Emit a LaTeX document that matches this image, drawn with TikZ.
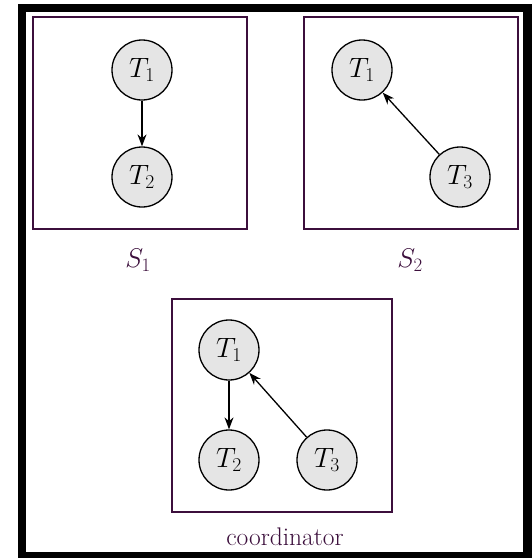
\RequirePackage{fix-cm}
\documentclass[tikz,border=0pt]{standalone}
\usetikzlibrary{arrows.meta}
\definecolor{dpurple}{RGB}{60,15,60}
\tikzset{
  tnode/.style={circle, draw=black, line width=1.3pt, fill=black!10, minimum size=60pt, inner sep=0pt, font=\fontsize{28}{32}\selectfont},
  sitebox/.style={draw=dpurple, line width=1.7pt},
  lbl/.style={text=dpurple, anchor=base, inner sep=0pt, font=\fontsize{27}{32}\selectfont},
  edge/.style={line width=1.3pt, -{Stealth[length=12pt,width=9pt]}}
}
\begin{document}
\begin{tikzpicture}[x=1pt,y=-1pt]
\useasboundingbox (0,0) rectangle (532,558);
\draw[line width=8.5pt] (22,8) rectangle (527.5,556);
% S1
\draw[sitebox] (33,17) rectangle (247,229);
\node[tnode] (a1) at (142,70) {$T_1$};
\node[tnode] (a2) at (142,177) {$T_2$};
\draw[edge] (a1) -- (a2);
\node[lbl] (s1) at (138,267) {$S_1$};
% S2
\draw[sitebox] (304,17) rectangle (518,229);
\node[tnode] (b1) at (362,70) {$T_1$};
\node[tnode] (b3) at (460,177) {$T_3$};
\draw[edge] (b3) -- (b1);
\node[lbl] (s2) at (410,267) {$S_2$};
% coordinator
\draw[sitebox] (172,299) rectangle (392,512);
\node[tnode] (c1) at (229,350) {$T_1$};
\node[tnode] (c2) at (229,460) {$T_2$};
\node[tnode] (c3) at (327,460) {$T_3$};
\draw[edge] (c1) -- (c2);
\draw[edge] (c3) -- (c1);
\node[lbl, font=\fontsize{25.5}{30}\selectfont] (co) at (285,545) {coordinator};
\end{tikzpicture}
\end{document}
